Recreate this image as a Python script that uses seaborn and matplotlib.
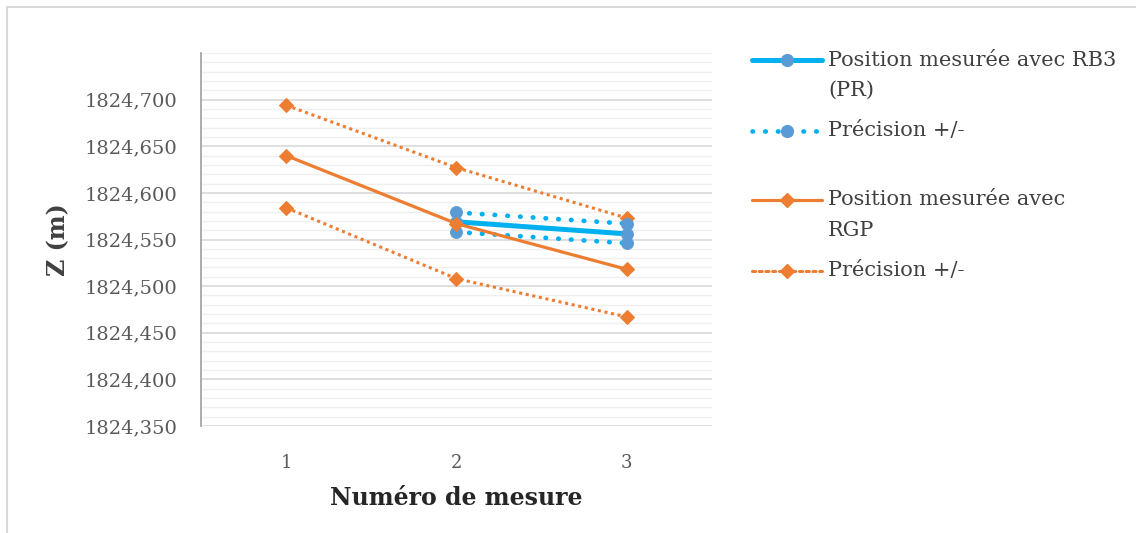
import matplotlib
matplotlib.use("Agg")
import matplotlib.pyplot as plt
from matplotlib.lines import Line2D
from matplotlib.ticker import MultipleLocator, FuncFormatter
import numpy as np
import pandas as pd
import seaborn as sns

# valeurs
mesures = [1, 2, 3]
rb3_pos = [np.nan, 1824.569, 1824.556]
rb3_haut = [np.nan, 1824.579, 1824.567]
rb3_bas = [np.nan, 1824.558, 1824.546]
rgp_pos = [1824.640, 1824.567, 1824.518]
rgp_haut = [1824.694, 1824.627, 1824.573]
rgp_bas = [1824.584, 1824.508, 1824.467]

bleu = "#00B0F0"
bleu_marq = "#5B9BD5"
orange = "#ED7D31"

sns.set_theme(style="white")
plt.rcParams["font.family"] = ["DejaVu Serif", "DejaVu Sans"]

W, H = 1136, 533
fig = plt.figure(figsize=(W / 100, H / 100), dpi=100)
ax = fig.add_axes([201 / W, 1 - 426 / H, 511 / W, 373 / H])

df = pd.DataFrame({"mesure": mesures,
                   "rb3": rb3_pos, "rb3_h": rb3_haut, "rb3_b": rb3_bas,
                   "rgp": rgp_pos, "rgp_h": rgp_haut, "rgp_b": rgp_bas})

# RGP
for col in ["rgp_h", "rgp_b"]:
    sns.lineplot(data=df, x="mesure", y=col, ax=ax, color=orange, lw=2.2,
                 ls=(0, (1, 1.2)), marker="D", ms=7, mec=orange, mfc=orange,
                 zorder=3)
sns.lineplot(data=df, x="mesure", y="rgp", ax=ax, color=orange, lw=2.3,
             marker="D", ms=7, mec=orange, mfc=orange, zorder=5)

# RB3
d = df.dropna()
for col in ["rb3_h", "rb3_b"]:
    sns.lineplot(data=d, x="mesure", y=col, ax=ax, color=bleu, lw=3.4,
                 ls=(0, (0.1, 2.6)), dash_capstyle="round", marker="o", ms=8.5,
                 mec=bleu_marq, mfc=bleu_marq, zorder=4)
sns.lineplot(data=d, x="mesure", y="rb3", ax=ax, color=bleu, lw=3.6,
             marker="o", ms=8.5, mec=bleu_marq, mfc=bleu_marq, zorder=4)

ax.set_xlim(0.5, 3.5)
ax.set_ylim(1824.35, 1824.75)
ax.set_xticks(mesures)
ax.set_yticks(np.arange(1824.35, 1824.701, 0.05))
ax.yaxis.set_minor_locator(MultipleLocator(0.01))
ax.yaxis.set_major_formatter(FuncFormatter(lambda v, p: f"{v:.3f}".replace(".", ",")))
ax.grid(True, axis="y", which="major", color="#D9D9D9", lw=1.2)
ax.grid(True, axis="y", which="minor", color="#EFEFEF", lw=1.0)
ax.set_axisbelow(True)

for s in ["top", "right", "bottom"]:
    ax.spines[s].set_visible(False)
ax.spines["left"].set_color("#A6A6A6")
ax.spines["left"].set_linewidth(1.3)

ax.tick_params(axis="y", which="both", length=0, pad=17, labelsize=14,
               labelcolor="#595959")
ax.tick_params(axis="x", length=0, pad=20, labelsize=13, labelcolor="#595959")

ax.set_xlabel("Numéro de mesure", fontsize=17, fontweight="bold", color="#262626")
ax.set_ylabel("Z (m)", fontsize=17, fontweight="bold", color="#404040")
ax.xaxis.set_label_coords(0.5, -0.16)
ax.yaxis.set_label_coords(-0.255, 0.5)

# légende dessinée à la main, comme dans Excel
leg = [
    (60, ["Position mesurée avec RB3", "(PR)"], bleu, "-", 3.6, "o", bleu_marq),
    (131, ["Précision +/-"], bleu, (0, (0.1, 2.6)), 3.4, "o", bleu_marq),
    (200, ["Position mesurée avec", "RGP"], orange, "-", 2.3, "D", orange),
    (271, ["Précision +/-"], orange, (0, (1, 1.2)), 2.2, "D", orange),
]
for y, lignes, c, ls, lw, m, mc in leg:
    yf = 1 - y / H
    fig.add_artist(Line2D([752 / W, 822 / W], [yf, yf], color=c, ls=ls, lw=lw,
                          dash_capstyle="round", transform=fig.transFigure))
    fig.add_artist(Line2D([787 / W], [yf], marker=m, ms=8.5 if m == "o" else 7,
                          mfc=mc, mec=mc, transform=fig.transFigure))
    for i, t in enumerate(lignes):
        fig.text(828 / W, 1 - (y + 30 * i) / H, t, fontsize=15, color="#404040",
                 va="center", ha="left")

# cadre du graphique
fig.add_artist(Line2D([7 / W, 7 / W], [0, 1 - 7 / H], color="#D9D9D9", lw=1.5,
                      transform=fig.transFigure))
fig.add_artist(Line2D([7 / W, 1], [1 - 7 / H, 1 - 7 / H], color="#D9D9D9", lw=1.5,
                      transform=fig.transFigure))

fig.savefig("out.png", dpi=100)
